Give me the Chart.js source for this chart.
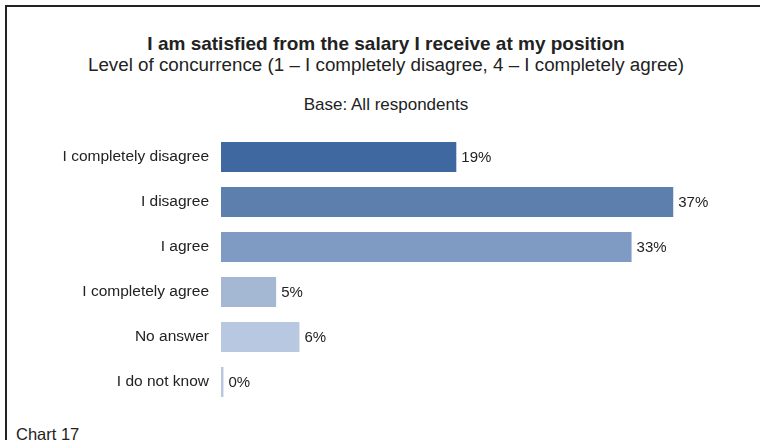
<!DOCTYPE html>
<html>
<head>
<meta charset="utf-8">
<script src="https://cdn.jsdelivr.net/npm/chart.js@4/dist/chart.umd.min.js"></script>
<style>
    body { margin: 0; background: #fff; font-family: "Liberation Sans", Arial, sans-serif; color: #222; }
    #wrap { position: relative; width: 760px; height: 440px; overflow: hidden; }
    #frame { position: absolute; left: 5px; top: 5px; right: -2px; bottom: -2px; border-top: 2px solid #222; border-left: 2px solid #222; }
    .txt { position: absolute; left: 6px; width: 760px; text-align: center; white-space: nowrap; }
    #title { top: 34px; font-size: 19px; line-height: 19px; font-weight: bold; }
    #subtitle { top: 56px; font-size: 18.8px; line-height: 18.8px; }
    #base { top: 95.5px; font-size: 17px; line-height: 17px; }
    #note { position: absolute; left: 16px; top: 426px; font-size: 16.5px; line-height: 16.5px; }
    canvas { position: absolute; left: 0; top: 0; }
</style>
</head>
<body>
<div id="wrap">
    <div id="frame"></div>
    <div class="txt" id="title">I am satisfied from the salary I receive at my position</div>
    <div class="txt" id="subtitle">Level of concurrence (1 – I completely disagree, 4 – I completely agree)</div>
    <div class="txt" id="base">Base: All respondents</div>
    <div id="note">Chart 17</div>
    <canvas id="salaryChart" width="760" height="440"></canvas>
</div>
<script>
const categories = ['I completely disagree', 'I disagree', 'I agree', 'I completely agree', 'No answer', 'I do not know'];
const shares = [19.2, 36.9, 33.5, 4.5, 6.4, 0.2];
const valueLabels = ['19%', '37%', '33%', '5%', '6%', '0%'];
const barColors = ['#3f68a0', '#5c7fae', '#7f9bc3', '#a4b8d4', '#b8c8e0', '#b8c8e0'];

// writes the percentage just right of each bar
const valueLabelPlugin = {
    id: 'valueLabels',
    afterDatasetsDraw(chart) {
        const ctx = chart.ctx;
        const meta = chart.getDatasetMeta(0);
        ctx.save();
        ctx.font = '15px "Liberation Sans", Arial, sans-serif';
        ctx.fillStyle = '#222';
        ctx.textBaseline = 'middle';
        ctx.textAlign = 'left';
        meta.data.forEach((bar, i) => {
            ctx.fillText(valueLabels[i], bar.x + 5, bar.y + 1);
        });
        ctx.restore();
    }
};

document.addEventListener('DOMContentLoaded', function() {
    const ctx = document.getElementById('salaryChart');
    new Chart(ctx, {
        type: 'bar',
        data: {
            labels: categories,
            datasets: [{
                data: shares,
                backgroundColor: barColors,
                borderWidth: 0,
                barPercentage: 0.667,
                categoryPercentage: 1
            }]
        },
        options: {
            indexAxis: 'y',
            responsive: false,
            animation: false,
            layout: { padding: { top: 134.5, bottom: 35.5, left: 0, right: 12 } },
            plugins: {
                legend: { display: false },
                tooltip: { enabled: false }
            },
            scales: {
                x: {
                    display: false,
                    min: 0,
                    max: 43
                },
                y: {
                    grid: { display: false, drawTicks: false },
                    border: { display: false },
                    ticks: {
                        padding: 12,
                        color: '#222',
                        font: { family: '"Liberation Sans", Arial, sans-serif', size: 15.5 }
                    },
                    afterFit: function(scale) {
                        scale.width = 221;
                    }
                }
            }
        },
        plugins: [valueLabelPlugin]
    });
});
</script>
</body>
</html>
